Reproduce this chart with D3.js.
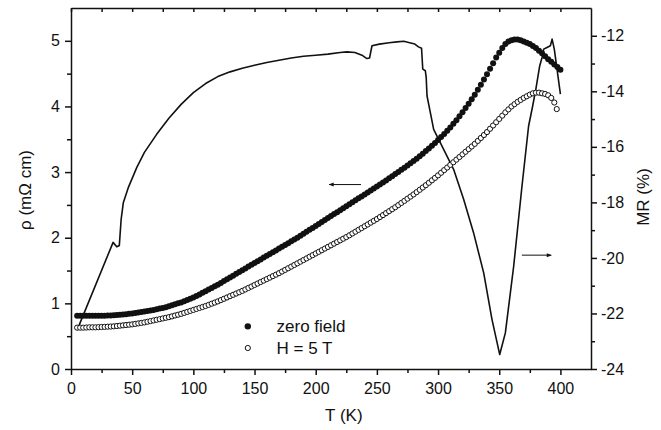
<!DOCTYPE html>
<html>
<head>
<meta charset="utf-8">
<script src="https://cdn.jsdelivr.net/npm/d3@7"></script>
<style>
  body { margin: 0; background: #fff; }
  text { font-family: "Liberation Sans", Arial, sans-serif; fill: #111; }
</style>
</head>
<body>
<svg id="drawing_region"></svg>
<script>
// zero field resistivity (mOhm cm)
const tZero = [5,7.5,10,12.5,15,17.5,20,22.5,25,27.5,
  30,32.5,35,37.5,40,42.5,45,47.5,50,52.5,
  55,57.5,60,62.5,65,67.5,70,72.5,75,77.5,
  80,82.5,85,87.5,90,92.5,95,97.5,100,102.5,
  105,107.5,110,112.5,115,117.5,120,122.5,125,127.5,
  130,132.5,135,137.5,140,142.5,145,147.5,150,152.5,
  155,157.5,160,162.5,165,167.5,170,172.5,175,177.5,
  180,182.5,185,187.5,190,192.5,195,197.5,200,202.5,
  205,207.5,210,212.5,215,217.5,220,222.5,225,227.5,
  230,232.5,235,237.5,240,242.5,245,247.5,250,252.5,
  255,257.5,260,262.5,265,267.5,270,272.5,275,277.5,
  280,282.5,285,287.5,290,292.5,295,297.5,300,302.5,
  305,307.5,310,312.5,315,317.5,320,322.5,325,327.5,
  330,332.5,335,337.5,340,342.5,345,347.5,350,352.5,
  355,357.5,360,362.5,365,367.5,370,372.5,375,377.5,
  380,382.5,385,387.5,390,392.5,395,397.5,400];
const rhoZero = [0.81,0.81,0.81,0.81,0.81,0.81,0.81,0.81,0.81,0.812,
  0.815,0.817,0.82,0.822,0.825,0.83,0.835,0.84,0.845,0.852,
  0.86,0.867,0.875,0.882,0.89,0.90,0.91,0.92,0.93,0.942,
  0.955,0.97,0.985,1.0,1.015,1.032,1.05,1.07,1.09,1.112,
  1.135,1.16,1.185,1.21,1.235,1.26,1.285,1.312,1.34,1.367,
  1.395,1.422,1.45,1.477,1.505,1.532,1.56,1.587,1.615,1.642,
  1.67,1.697,1.725,1.752,1.78,1.807,1.835,1.862,1.89,1.917,
  1.945,1.972,2.0,2.03,2.06,2.09,2.12,2.15,2.18,2.21,
  2.24,2.27,2.30,2.33,2.36,2.39,2.42,2.45,2.48,2.51,
  2.54,2.57,2.60,2.63,2.66,2.69,2.72,2.75,2.78,2.81,
  2.84,2.872,2.905,2.937,2.97,3.002,3.035,3.067,3.10,3.135,
  3.17,3.205,3.24,3.28,3.32,3.36,3.40,3.445,3.49,3.535,
  3.58,3.63,3.68,3.735,3.79,3.85,3.91,3.975,4.04,4.11,
  4.18,4.255,4.33,4.41,4.49,4.575,4.66,4.745,4.82,4.89,
  4.95,4.99,5.01,5.02,5.02,5.01,4.99,4.97,4.95,4.92,
  4.89,4.85,4.81,4.765,4.72,4.68,4.64,4.60,4.56];

// H = 5 T resistivity
const tField = [5,7.5,10,12.5,15,17.5,20,22.5,25,27.5,
  30,32.5,35,37.5,40,42.5,45,47.5,50,52.5,
  55,57.5,60,62.5,65,67.5,70,72.5,75,77.5,
  80,82.5,85,87.5,90,92.5,95,97.5,100,102.5,
  105,107.5,110,112.5,115,117.5,120,122.5,125,127.5,
  130,132.5,135,137.5,140,142.5,145,147.5,150,152.5,
  155,157.5,160,162.5,165,167.5,170,172.5,175,177.5,
  180,182.5,185,187.5,190,192.5,195,197.5,200,202.5,
  205,207.5,210,212.5,215,217.5,220,222.5,225,227.5,
  230,232.5,235,237.5,240,242.5,245,247.5,250,252.5,
  255,257.5,260,262.5,265,267.5,270,272.5,275,277.5,
  280,282.5,285,287.5,290,292.5,295,297.5,300,302.5,
  305,307.5,310,312.5,315,317.5,320,322.5,325,327.5,
  330,332.5,335,337.5,340,342.5,345,347.5,350,352.5,
  355,357.5,360,362.5,365,367.5,370,372.5,375,377.5,
  380,382.5,385,387.5,390,392.5,395,397];
const rhoField = [0.63,0.63,0.63,0.632,0.635,0.635,0.635,0.637,0.64,0.642,
  0.645,0.647,0.65,0.655,0.66,0.665,0.67,0.675,0.68,0.687,
  0.695,0.702,0.71,0.72,0.73,0.74,0.75,0.76,0.77,0.78,
  0.79,0.802,0.815,0.827,0.84,0.855,0.87,0.885,0.90,0.915,
  0.93,0.945,0.96,0.977,0.995,1.012,1.03,1.05,1.07,1.09,
  1.11,1.13,1.15,1.17,1.19,1.212,1.235,1.257,1.28,1.302,
  1.325,1.347,1.37,1.392,1.415,1.437,1.46,1.485,1.51,1.535,
  1.56,1.585,1.61,1.635,1.66,1.685,1.71,1.735,1.76,1.785,
  1.81,1.835,1.86,1.885,1.91,1.935,1.96,1.985,2.01,2.037,
  2.065,2.092,2.12,2.147,2.175,2.202,2.23,2.257,2.285,2.315,
  2.345,2.375,2.405,2.435,2.465,2.497,2.53,2.562,2.595,2.627,
  2.66,2.695,2.73,2.765,2.80,2.837,2.875,2.912,2.95,2.99,
  3.03,3.07,3.11,3.15,3.19,3.23,3.27,3.31,3.35,3.39,
  3.43,3.475,3.52,3.565,3.61,3.66,3.71,3.76,3.81,3.86,
  3.91,3.955,4.0,4.035,4.07,4.10,4.13,4.155,4.18,4.20,
  4.21,4.21,4.20,4.19,4.17,4.13,4.06,3.96];

// magnetoresistance (%)
const tMR = [5,34.4,37.4,39.5,41,42.8,47,53.7,60,70,80,90,100,110,120,130,140,150,160,170,
  180,190,200,210,220,225.5,232,237.8,241.8,244,246,252,260,266.4,272,276,281,284,286.5,287.5,
  289.6,290.3,291,293.7,296.4,301.8,312.7,320.9,329,337.3,344.1,350.4,355,361.8,368.6,374,377,380,383,385,
  386.3,389,391.8,393.2,395,400];
const mrVal = [-22.6,-19.44,-19.6,-19.55,-18.6,-18.0,-17.45,-16.75,-16.2,-15.55,-14.97,-14.47,-14.05,-13.72,-13.47,-13.3,-13.17,-13.06,-12.96,-12.88,
  -12.8,-12.74,-12.7,-12.66,-12.6,-12.58,-12.6,-12.7,-12.82,-12.8,-12.36,-12.3,-12.25,-12.22,-12.2,-12.24,-12.3,-12.4,-12.45,-13.2,
  -13.26,-13.5,-14.17,-14.77,-15.37,-15.85,-16.81,-17.89,-19.09,-20.54,-22.22,-23.48,-22.7,-20.3,-17.41,-15.25,-14.6,-13.9,-13.1,-12.78,
  -12.48,-12.42,-12.36,-12.12,-12.48,-14.1];

const xTicks = [0,50,100,150,200,250,300,350,400];
const xMinor = [25,75,125,175,225,275,325,375];
const xTop = [0,25,50,75,100,125,150,175,200,225,250,275,300,325,350,375,400];
const yTicks = [0,1,2,3,4,5];
const yMinor = [0.5,1.5,2.5,3.5,4.5];
const mrTicks = [-24,-22,-20,-18,-16,-14,-12];
const mrMinor = [-23,-21,-19,-17,-15,-13];

const config = {
    parent: '#drawing_region',
    width: 661,
    height: 430,
    margin: {top:8, right:70, bottom:61, left:71}
};

const svg = d3.select(config.parent)
    .attr('width', config.width)
    .attr('height', config.height);

const inner_width = config.width - config.margin.left - config.margin.right;
const inner_height = config.height - config.margin.top - config.margin.bottom;

const chart = svg.append('g')
    .attr('transform', `translate(${config.margin.left}, ${config.margin.top})`);

const xscale = d3.scaleLinear().domain([0, 425]).range([0, inner_width]);
const yscale = d3.scaleLinear().domain([0, 5.5]).range([inner_height, 0]);
const mrscale = d3.scaleLinear().domain([-24, -11]).range([inner_height, 0]);

function styleAxis(g) {
    g.selectAll('path, line').attr('stroke', '#111').attr('stroke-width', 1.5);
    g.selectAll('text').attr('font-size', '16px').attr('fill', '#111')
        .attr('font-family', '"Liberation Sans", Arial, sans-serif');
}

// bottom
chart.append('g')
    .attr('transform', `translate(0, ${inner_height})`)
    .call(d3.axisBottom(xscale).tickValues(xTicks).tickSize(6).tickSizeOuter(0).tickPadding(8))
    .call(styleAxis);
chart.append('g')
    .attr('transform', `translate(0, ${inner_height})`)
    .call(d3.axisBottom(xscale).tickValues(xMinor).tickSize(4).tickFormat(''))
    .call(g => g.select('.domain').remove())
    .call(styleAxis);

// top
chart.append('g')
    .call(d3.axisTop(xscale).tickValues(xTop).tickSize(-4).tickSizeOuter(0).tickFormat(''))
    .call(styleAxis);

// left
chart.append('g')
    .call(d3.axisLeft(yscale).tickValues(yTicks).tickSize(6).tickSizeOuter(0).tickPadding(5).tickFormat(d3.format('d')))
    .call(styleAxis);
chart.append('g')
    .call(d3.axisLeft(yscale).tickValues(yMinor).tickSize(4).tickFormat(''))
    .call(g => g.select('.domain').remove())
    .call(styleAxis);

// right
chart.append('g')
    .attr('transform', `translate(${inner_width}, 0)`)
    .call(d3.axisRight(mrscale).tickValues(mrTicks).tickSize(6).tickSizeOuter(0).tickPadding(4).tickFormat(d => String(d)))
    .call(styleAxis);
chart.append('g')
    .attr('transform', `translate(${inner_width}, 0)`)
    .call(d3.axisRight(mrscale).tickValues(mrMinor).tickSize(4).tickFormat(''))
    .call(g => g.select('.domain').remove())
    .call(styleAxis);

// MR line
const mrData = tMR.map((t, i) => ({t: t, v: mrVal[i]}));
chart.append('path')
    .datum(mrData)
    .attr('fill', 'none')
    .attr('stroke', '#111')
    .attr('stroke-width', 1.6)
    .attr('stroke-linejoin', 'round')
    .attr('d', d3.line().x(d => xscale(d.t)).y(d => mrscale(d.v)));

// H = 5 T open circles
chart.append('g').selectAll('circle')
    .data(tField.map((t, i) => ({t: t, v: rhoField[i]})))
    .join('circle')
    .attr('cx', d => xscale(d.t))
    .attr('cy', d => yscale(d.v))
    .attr('r', 2.6)
    .attr('fill', '#fff')
    .attr('stroke', '#111')
    .attr('stroke-width', 1);

// zero field filled circles
chart.append('g').selectAll('circle')
    .data(tZero.map((t, i) => ({t: t, v: rhoZero[i]})))
    .join('circle')
    .attr('cx', d => xscale(d.t))
    .attr('cy', d => yscale(d.v))
    .attr('r', 3)
    .attr('fill', '#111');

// arrows
const defs = svg.append('defs');
defs.append('marker')
    .attr('id', 'head')
    .attr('viewBox', '0 0 10 10')
    .attr('refX', 9).attr('refY', 5)
    .attr('markerWidth', 7).attr('markerHeight', 5)
    .attr('orient', 'auto')
    .append('path').attr('d', 'M0,1 L10,5 L0,9 Z').attr('fill', '#111');

chart.append('line')
    .attr('x1', xscale(237)).attr('x2', xscale(211))
    .attr('y1', yscale(2.81)).attr('y2', yscale(2.81))
    .attr('stroke', '#111').attr('stroke-width', 1)
    .attr('marker-end', 'url(#head)');

chart.append('line')
    .attr('x1', xscale(368.5)).attr('x2', xscale(392.5))
    .attr('y1', mrscale(-19.9)).attr('y2', mrscale(-19.9))
    .attr('stroke', '#111').attr('stroke-width', 1)
    .attr('marker-end', 'url(#head)');

// legend
const legend = chart.append('g');
legend.append('circle')
    .attr('cx', xscale(144.5)).attr('cy', yscale(0.65))
    .attr('r', 3.2).attr('fill', '#111');
legend.append('circle')
    .attr('cx', xscale(144.5)).attr('cy', yscale(0.32))
    .attr('r', 2.6).attr('fill', '#fff').attr('stroke', '#111').attr('stroke-width', 1);
legend.append('text')
    .attr('x', xscale(168)).attr('y', yscale(0.65) + 6)
    .attr('font-size', '17px')
    .text('zero field');
legend.append('text')
    .attr('x', xscale(168)).attr('y', yscale(0.32) + 6)
    .attr('font-size', '17px')
    .text('H = 5 T');

// axis titles
svg.append('text')
    .attr('x', config.margin.left + xscale(223))
    .attr('y', 421)
    .attr('text-anchor', 'middle')
    .attr('font-size', '17px')
    .text('T (K)');

svg.append('text')
    .attr('transform', `translate(31, 190) rotate(-90)`)
    .attr('text-anchor', 'middle')
    .attr('font-size', '17px')
    .text('ρ (mΩ cm)');

svg.append('text')
    .attr('transform', `translate(649, 197) rotate(-90)`)
    .attr('text-anchor', 'middle')
    .attr('font-size', '17px')
    .text('MR (%)');
</script>
</body>
</html>
